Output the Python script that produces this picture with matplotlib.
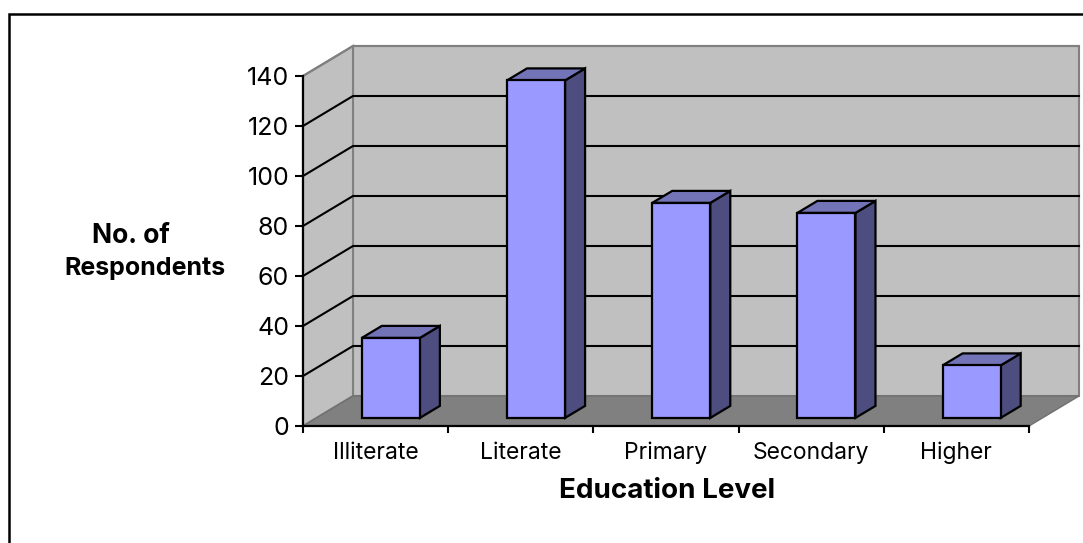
import matplotlib
matplotlib.use("Agg")
import matplotlib.pyplot as plt
from matplotlib.patches import Polygon
from matplotlib.lines import Line2D

plt.rcParams['font.family'] = ['Inter', 'Liberation Sans', 'DejaVu Sans']

categories = ["Illiterate", "Literate", "Primary", "Secondary", "Higher"]
respondents = [32, 135, 86, 82, 21]
y_ticks = [0, 20, 40, 60, 80, 100, 120, 140]

W, H = 1083, 543
left, right, top, base = 303, 1029, 76, 426

# depth of the fake 3d box, in data units (50px across, 30px up)
depth_x = 50 / ((right - left) / len(categories))
depth_y = 30 / ((base - top) / y_ticks[-1])

bar_w = 0.40
bar_shift = 0.012
bar_d0 = 0.27
bar_d1 = 0.67


def proj(x, y, d):
    return (x + d * depth_x, y + d * depth_y)


fig = plt.figure(figsize=(W / 100, H / 100), dpi=100)
ax = fig.add_axes([left / W, 1 - base / H, (right - left) / W, (base - top) / H])
ax.set_xlim(0, len(categories))
ax.set_ylim(0, y_ticks[-1])
ax.patch.set_visible(False)

n = len(categories)
ymax = y_ticks[-1]

# walls and floor
ax.add_patch(Polygon([proj(0, 0, 1), proj(n, 0, 1), proj(n, ymax, 1), proj(0, ymax, 1)],
                     fc="#c0c0c0", ec="#808080", lw=1.5, clip_on=False, zorder=1))
ax.add_patch(Polygon([proj(0, 0, 0), proj(0, 0, 1), proj(0, ymax, 1), proj(0, ymax, 0)],
                     fc="#c0c0c0", ec="#808080", lw=1.5, clip_on=False, zorder=1))
ax.add_patch(Polygon([proj(0, 0, 0), proj(n, 0, 0), proj(n, 0, 1), proj(0, 0, 1)],
                     fc="#808080", ec="#707070", lw=1, clip_on=False, zorder=1))

# gridlines on both walls
for t in y_ticks[1:]:
    xs = [proj(0, t, 0)[0], proj(0, t, 1)[0], proj(n, t, 1)[0]]
    ys = [proj(0, t, 0)[1], proj(0, t, 1)[1], proj(n, t, 1)[1]]
    col = "#808080" if t == ymax else "black"
    ax.plot(xs, ys, color=col, lw=1.5, clip_on=False, zorder=2, solid_joinstyle="miter")

# bars
for i, v in enumerate(respondents):
    x0 = i + 0.5 - bar_w / 2 + bar_shift
    x1 = x0 + bar_w
    side = [proj(x1, 0, bar_d0), proj(x1, 0, bar_d1), proj(x1, v, bar_d1), proj(x1, v, bar_d0)]
    cap = [proj(x0, v, bar_d0), proj(x1, v, bar_d0), proj(x1, v, bar_d1), proj(x0, v, bar_d1)]
    front = [proj(x0, 0, bar_d0), proj(x1, 0, bar_d0), proj(x1, v, bar_d0), proj(x0, v, bar_d0)]
    for pts, col in [(side, "#4d4d80"), (cap, "#7373b8"), (front, "#9999ff")]:
        ax.add_patch(Polygon(pts, fc=col, ec="black", lw=1.6, clip_on=False, zorder=3,
                             joinstyle="miter"))

for s in ["top", "right"]:
    ax.spines[s].set_visible(False)
for s in ["left", "bottom"]:
    ax.spines[s].set_linewidth(1.6)
    ax.spines[s].set_zorder(2.5)

ax.set_yticks(y_ticks)
ax.set_xticks(range(n + 1))
ax.set_xticklabels([])
ax.tick_params(axis="y", labelsize=18, length=6, width=1.5, direction="out", pad=4)
ax.tick_params(axis="x", length=5, width=1.5, direction="out")

for i, c in enumerate(categories):
    ax.annotate(c, (i + 0.5, 0), xytext=(0, -23.5), textcoords="offset points",
                ha="center", va="baseline", fontsize=16.5, color="black", annotation_clip=False)

fig.text(667 / W, 1 - 498 / H, "Education Level", ha="center", va="baseline",
         fontsize=20, fontweight="bold")
fig.text(131 / W, 1 - 243 / H, "No. of", ha="center", va="baseline",
         fontsize=19, fontweight="bold")
fig.text(145 / W, 1 - 275 / H, "Respondents", ha="center", va="baseline",
         fontsize=18, fontweight="bold")

# chart frame, cropped at the right and bottom of the image
fig.add_artist(Line2D([9 / W, 9 / W, 1], [0, 1 - 14 / H, 1 - 14 / H], transform=fig.transFigure,
                      color="black", lw=1.8, solid_joinstyle="miter"))

fig.savefig("out.png", dpi=100)
